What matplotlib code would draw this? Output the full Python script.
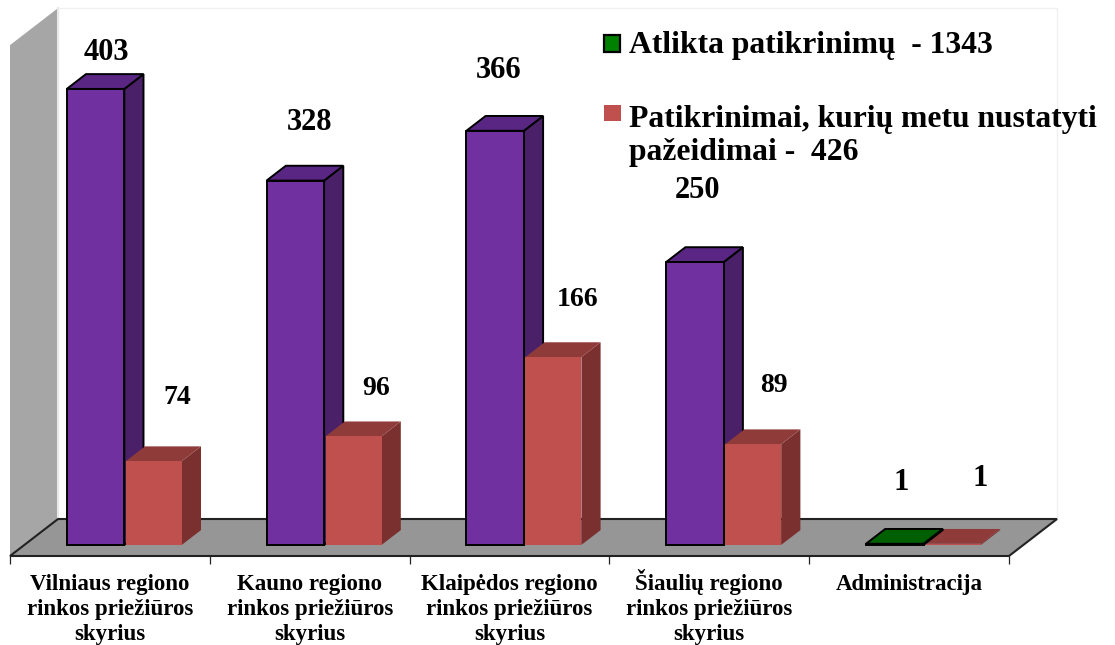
import matplotlib
matplotlib.use("Agg")
import matplotlib.pyplot as plt
from matplotlib.patches import Polygon
from matplotlib.transforms import ScaledTranslation

categories = ["Vilniaus regiono\nrinkos priežiūros\nskyrius",
              "Kauno regiono\nrinkos priežiūros\nskyrius",
              "Klaipėdos regiono\nrinkos priežiūros\nskyrius",
              "Šiaulių regiono\nrinkos priežiūros\nskyrius",
              "Administracija"]
checks_heights = [403, 322, 366, 250, 1]
violations_heights = [74, 96, 166, 89, 1]
checks_labels = ["403", "328", "366", "250", "1"]
violations_labels = ["74", "96", "166", "89", "1"]
legend_checks = "Atlikta patikrinimų  - 1343"
legend_violations = "Patikrinimai, kurių metu nustatyti\npažeidimai -  426"

W, H = 1115, 645
PX_X = 199.8          # pixels per category
PX_Y = 1.1315         # pixels per value unit
L, R, B = 10, 1009, 556
DEPTH_X, DEPTH_Y = 48 / PX_X, 37 / PX_Y
BAR_W = 57.5 / PX_X
D0, D1 = 0.30, 0.70

plt.rcParams["font.family"] = ["Liberation Serif", "DejaVu Serif"]
plt.rcParams["font.weight"] = "bold"

fig = plt.figure(figsize=(W / 100, H / 100), dpi=100, facecolor="white")
ax = fig.add_axes([L / W, (H - B) / H, (R - L) / W, B / H])
ax.set_xlim(0, 5)
ax.set_ylim(0, B / PX_Y)
for s in ax.spines.values():
    s.set_visible(False)
ax.patch.set_alpha(0)


def proj(x, v, d):
    return (x + d * DEPTH_X, v + d * DEPTH_Y)


def poly(points, fc, ec="none", lw=0, z=2, **kw):
    ax.add_patch(Polygon(points, closed=True, facecolor=fc, edgecolor=ec, linewidth=lw,
                         zorder=z, clip_on=False, joinstyle="miter", **kw))


WALL_H = 451.5
# back wall outline
poly([proj(0, 0, 1), proj(5, 0, 1), proj(5, WALL_H, 1), proj(0, WALL_H, 1)], "white", "#f0f0f0", 1, z=1)
# side wall
poly([proj(0, 0, 0), proj(0, 0, 1), proj(0, WALL_H, 1), proj(0, WALL_H, 0)], "#a6a6a6", z=1.2)
ax.plot(*zip(proj(0, 0, 1), proj(0, WALL_H, 1)), color="#e8e8e8", lw=1.5, zorder=1.3, clip_on=False)
# floor
poly([proj(0, 0, 0), proj(5, 0, 0), proj(5, 0, 1), proj(0, 0, 1)], "#969696", "#222222", 1.5, z=1.5)


def bar3d(x, w, h, front, top, side, edge, lw, z):
    poly([proj(x + w, 0, D0), proj(x + w, 0, D1), proj(x + w, h, D1), proj(x + w, h, D0)], side, edge, lw, z)
    poly([proj(x, h, D0), proj(x + w, h, D0), proj(x + w, h, D1), proj(x, h, D1)], top, edge, lw, z)
    poly([proj(x, 0, D0), proj(x + w, 0, D0), proj(x + w, h, D0), proj(x, h, D0)], front, edge, lw, z)


GAP = 1.5 / PX_X
for i, (a, b) in enumerate(zip(checks_heights, violations_heights)):
    c = i + 0.5
    if i < 4:
        bar3d(c - BAR_W, BAR_W, a, "#7030a0", "#5a2684", "#4a2069", "#000000", 1.4, 3 + i)
        bar3d(c + GAP, BAR_W - GAP, b, "#c0504d", "#8f3b39", "#7a302e", "none", 0, 3.5 + i)
    else:
        bar3d(c, BAR_W, b, "#c0504d", "#8f3b39", "#7a302e", "none", 0, 3 + i)
        bar3d(c - BAR_W, BAR_W, a, "#007000", "#006000", "#005000", "#000000", 1.4, 3.5 + i)

# axis ticks and labels
ax.set_xticks(range(6))
ax.set_xticklabels([""] * 6)
ax.set_xticks([i + 0.5 for i in range(5)], minor=True)
ax.set_xticklabels(categories, minor=True, fontsize=16.5, fontweight="bold", linespacing=1.25)
ax.tick_params(axis="x", which="major", length=6, width=0.9, color="#222222")
ax.tick_params(axis="x", which="minor", length=0, pad=13)
ax.set_yticks([])
# the caron on the capital letter pushes this label down
lab = ax.get_xticklabels(minor=True)[3]
lab.set_transform(lab.get_transform() + ScaledTranslation(0, 5 / 100, fig.dpi_scale_trans))


def px_text(x, y, s, size, **kw):
    fig.text(x / W, 1 - y / H, s, fontsize=size, fontweight="bold", color="black", **kw)


centers = dict(ha="center", va="center")
for (x, y), s, size in zip([(106, 53), (310, 123), (499, 71), (697, 191), (901, 483)], checks_labels,
                           [22, 22, 22, 22, 22]):
    px_text(x, y, s, size, **centers)
for (x, y), s, size in zip([(177, 398), (376, 388), (578, 300), (774, 386), (980, 479)], violations_labels,
                           [20, 20, 20, 20, 22]):
    px_text(x, y, s, size, **centers)

# legend
fig.patches.append(plt.Rectangle((604 / W, 1 - 52 / H), 16 / W, 17 / H, transform=fig.transFigure,
                                 facecolor="#008000", edgecolor="black", linewidth=1.6))
fig.patches.append(plt.Rectangle((604 / W, 1 - 121 / H), 17 / W, 16 / H, transform=fig.transFigure,
                                 facecolor="#c0504d", edgecolor="none"))
px_text(629, 46, legend_checks, 22.8, ha="left", va="center")
px_text(629, 136, legend_violations, 22.8, ha="left", va="center", linespacing=1.17)

fig.savefig("out.png", dpi=100, facecolor="white")
